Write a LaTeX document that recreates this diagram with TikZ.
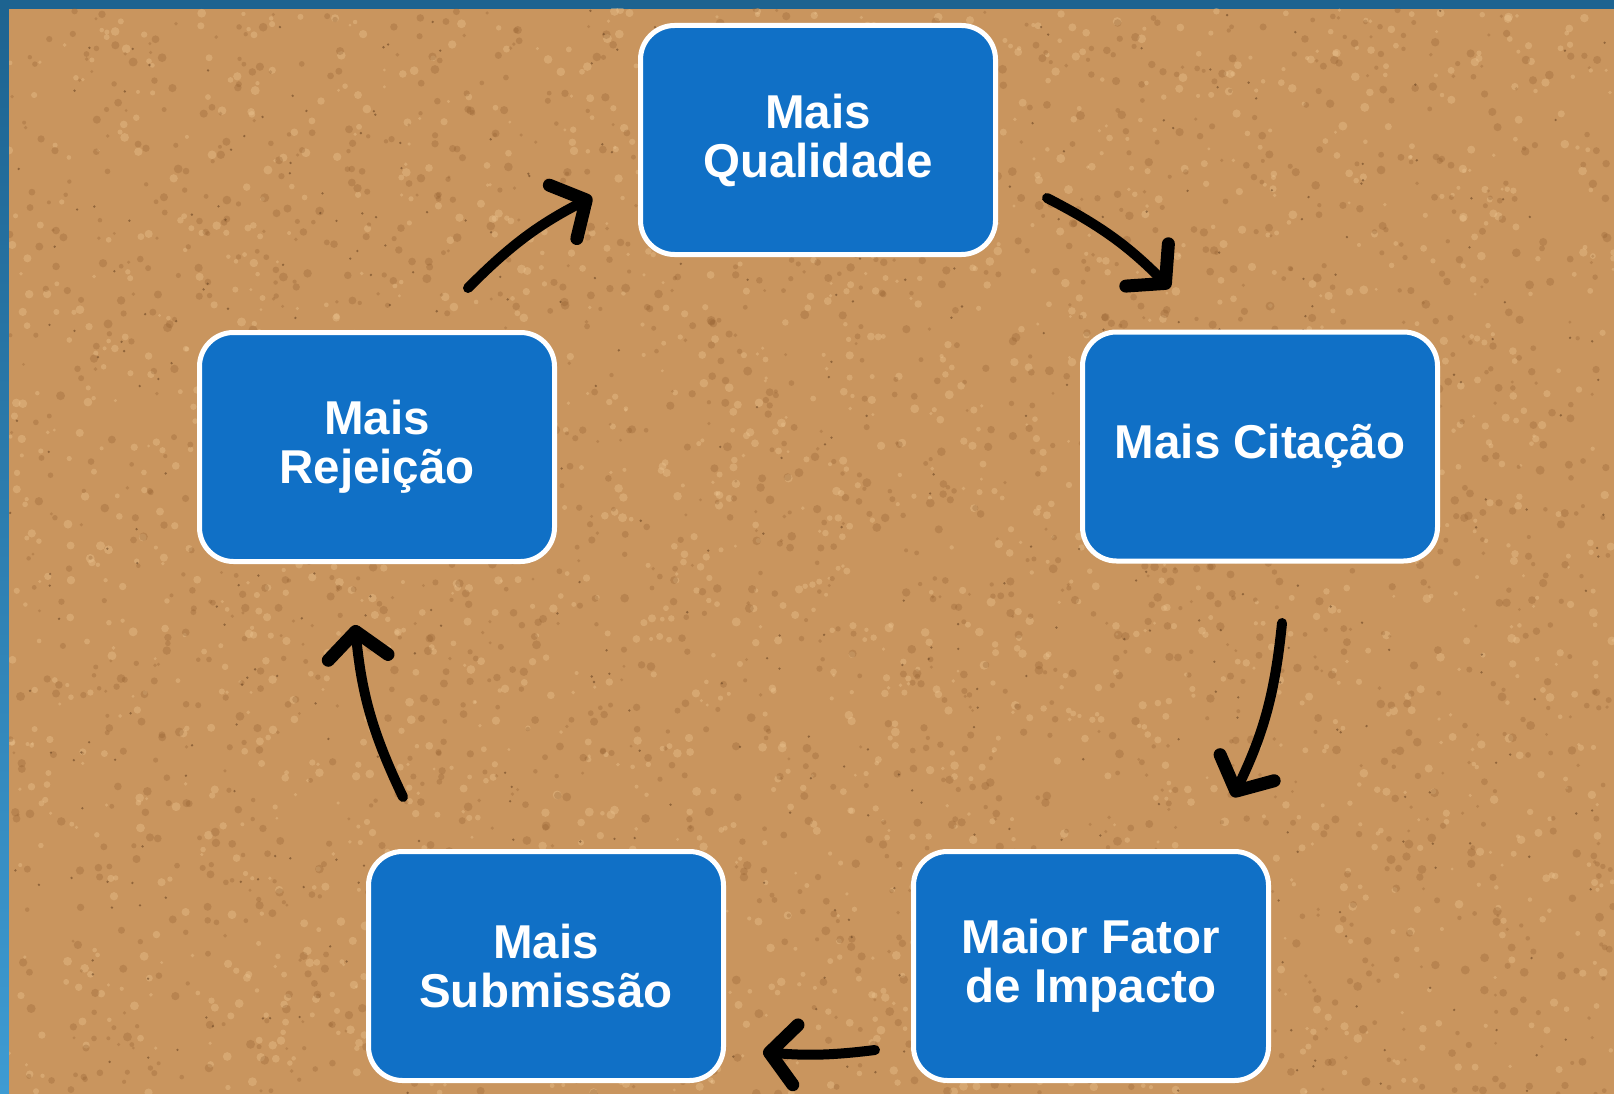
\documentclass[tikz,border=0pt]{standalone}
\usepackage{fontspec}
\setmainfont{Liberation Sans}
\usetikzlibrary{arrows.meta}
\definecolor{cork}{HTML}{C9955E}
\definecolor{corkdark}{HTML}{8E5A2C}
\definecolor{corklight}{HTML}{EBC38F}
\definecolor{boxblue}{HTML}{1070C6}
\definecolor{framedark}{HTML}{1D6390}
\definecolor{framelight}{HTML}{3E9BD2}
\begin{document}
\begin{tikzpicture}[x=1pt,y=-1pt,
  box/.style={draw=white, line width=5pt, fill=boxblue, rounded corners=34pt,
    minimum width=355pt, minimum height=229pt, align=center, text=white,
    font=\fontsize{47.5}{49}\selectfont\bfseries, inner sep=0pt},
  arr/.style={line width=10pt, line cap=round,
    -{Straight Barb[length=26pt,width=60pt,line width=0pt 1.3,round]}}]
\useasboundingbox (0,0) rectangle (1614,1094);
% frame and cork background
\fill[framedark] (0,0) rectangle (1614,9);
\shade[top color=framedark, bottom color=framelight] (0,0) rectangle (9,1094);
\fill[cork] (9,9) rectangle (1614,1094);
\begin{scope}
\clip (9,9) rectangle (1614,1094);
\pgfmathsetseed{7}
\foreach \i in {1,...,2200}{
  \pgfmathsetmacro\px{9+1605*rnd}
  \pgfmathsetmacro\py{9+1085*rnd}
  \pgfmathsetmacro\pr{1.5+3*rnd}
  \fill[corklight,opacity=0.4] (\px,\py) circle (\pr pt);
}
\foreach \i in {1,...,2200}{
  \pgfmathsetmacro\px{9+1605*rnd}
  \pgfmathsetmacro\py{9+1085*rnd}
  \pgfmathsetmacro\pr{1.5+3*rnd}
  \fill[corkdark,opacity=0.28] (\px,\py) circle (\pr pt);
}
\foreach \i in {1,...,500}{
  \pgfmathsetmacro\px{9+1605*rnd}
  \pgfmathsetmacro\py{9+1085*rnd}
  \fill[corkdark!70!black,opacity=0.55] (\px,\py) circle (1.3pt);
}
\end{scope}
% boxes
\node[box] (qual) at (818,140) {Mais\\Qualidade};
\node[box] (cit) at (1260,446.5) {Mais Citação};
\node[box] (imp) at (1091,966) {Maior Fator\\de Impacto};
\node[box] (sub) at (546,966) {Mais\\Submissão};
\node[box] (rej) at (377,447) {Mais\\Rejeição};
% arrow end points
\coordinate (a1s) at (468,288);  \coordinate (a1e) at (592,197);
\coordinate (a2s) at (1047,198); \coordinate (a2e) at (1170,288);
\coordinate (a3s) at (1282,623); \coordinate (a3e) at (1233,797);
\coordinate (a4s) at (875,1050); \coordinate (a4e) at (763,1052);
\coordinate (a5s) at (403,797);  \coordinate (a5e) at (355,625);
\draw[arr] (a1s) to[bend left=9] (a1e);
\draw[arr] (a2s) to[bend left=9] (a2e);
\draw[arr] (a3s) to[bend left=10] (a3e);
\draw[arr] (a4s) to[bend left=6] (a4e);
\draw[arr] (a5s) to[bend left=10] (a5e);
\end{tikzpicture}
\end{document}
